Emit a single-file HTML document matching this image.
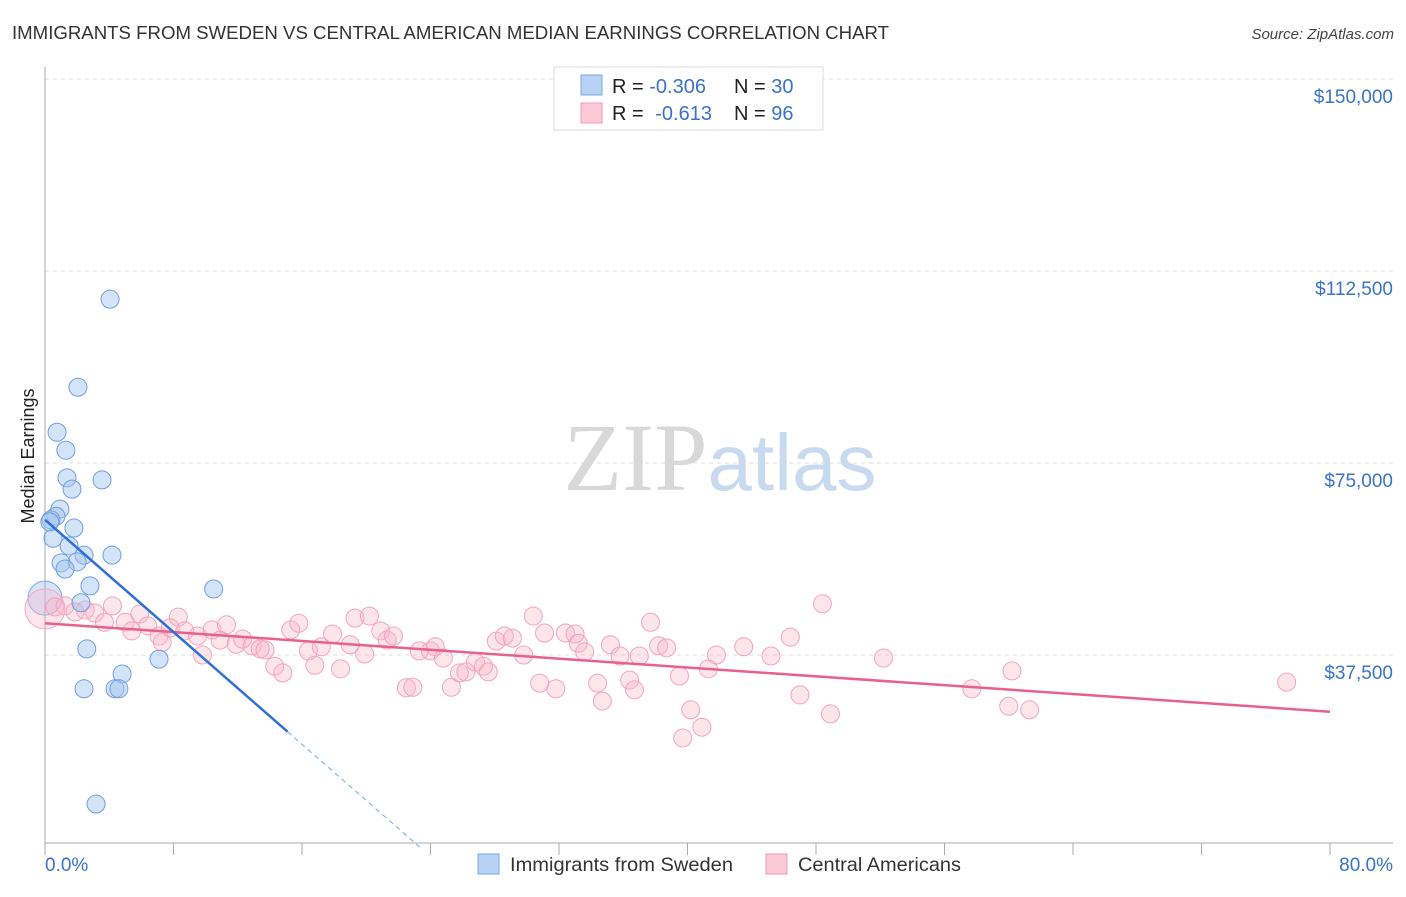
<!DOCTYPE html>
<html><head><meta charset="utf-8"><style>
body{margin:0;background:#fff;font-family:"Liberation Sans",sans-serif;}
svg text{font-family:"Liberation Sans",sans-serif;}
</style></head><body>
<svg id="chart" width="1406" height="892" xmlns="http://www.w3.org/2000/svg">
<text x="12" y="39" font-size="18.5" fill="#333" textLength="877" lengthAdjust="spacingAndGlyphs">IMMIGRANTS FROM SWEDEN VS CENTRAL AMERICAN MEDIAN EARNINGS CORRELATION CHART</text>
<text x="1394" y="39" font-size="15" fill="#444" text-anchor="end" font-style="italic">Source: ZipAtlas.com</text>
<text transform="translate(34,456) rotate(-90)" font-size="18" fill="#222" text-anchor="middle">Median Earnings</text>
<text x="720" y="490" font-size="96" text-anchor="middle"><tspan fill="#d8d8d8" font-family="Liberation Serif">ZIP</tspan><tspan fill="#c8daf0" font-size="80">atlas</tspan></text>
<g id="grid"></g><g id="marks"></g>
<g>
<rect x="554" y="67" width="269" height="63" fill="#fff" stroke="#ddd"/>
<rect x="581" y="75" width="21" height="20" fill="#b8d2f4" stroke="#7aa8e4"/>
<rect x="581" y="103" width="21" height="20" fill="#fcc9d8" stroke="#f09ab5"/>
<text x="612" y="93" font-size="20" fill="#222">R = <tspan fill="#3a73c8">-0.306</tspan><tspan x="734">N = </tspan><tspan fill="#3a73c8">30</tspan></text>
<text x="612" y="120" font-size="20" fill="#222">R = <tspan fill="#3a73c8" dx="6">-0.613</tspan><tspan x="734">N = </tspan><tspan fill="#3a73c8">96</tspan></text>
</g>
<g>
<rect x="478" y="854" width="21" height="20" fill="#b8d2f4" stroke="#7aa8e4"/>
<text x="510" y="871" font-size="19.5" fill="#333" textLength="223" lengthAdjust="spacingAndGlyphs">Immigrants from Sweden</text>
<rect x="766" y="854" width="21" height="20" fill="#fcc9d8" stroke="#f09ab5"/>
<text x="798" y="871" font-size="19.5" fill="#333" textLength="163" lengthAdjust="spacingAndGlyphs">Central Americans</text>
</g>
</svg>
<script>
const yTicks=[150000,112500,75000,37500];
const yTickLabels=["$150,000","$112,500","$75,000","$37,500"];
const xTickLabels=["0.0%","80.0%"];
const blueX=[4.05,2.05,0.75,1.3,1.37,1.68,3.55,0.93,0.68,0.37,1.8,0.5,1.5,2.43,4.17,2.0,1.0,1.25,2.8,10.5,2.24,2.6,4.8,7.1,2.43,4.36,4.6,3.18,0.3];
const blueY=[107000,89800,81000,77500,72100,69900,71700,66000,64600,63900,62300,60300,58800,57000,57000,55700,55500,54300,51000,50400,47700,38700,33800,36700,30900,30900,30900,8400,63500];
const pinkX=[0.62,1.25,1.87,2.5,3.1,3.7,4.2,5,5.4,5.9,6.4,7.1,7.3,7.8,8.3,8.7,9.5,9.8,10.4,10.9,11.3,11.9,12.3,12.9,13.4,13.7,14.3,14.8,15.3,15.8,16.4,16.8,17.2,17.9,18.4,19,19.3,19.9,20.2,20.9,21.3,21.7,22.5,22.9,23.3,24,24.3,24.8,25.3,25.8,26.2,26.8,27.3,27.6,28.1,28.6,29.1,29.8,30.4,30.8,31.1,31.8,32.4,33,33.2,33.6,34.4,34.7,35.2,35.8,36.4,36.7,37,37.7,38.2,38.7,39.5,39.7,40.2,40.9,41.3,41.8,43.5,45.2,46.4,47,48.4,48.9,52.2,57.7,60,60.2,61.3,77.3];
const pinkY=[46900,47100,45900,46300,45700,43900,47100,43900,42200,45500,43200,41200,40000,42800,44900,42200,41200,37500,42400,40400,43400,39600,40600,39300,38700,38500,35300,34000,42400,43700,38300,35500,39100,41600,34800,39500,44700,37700,45100,42200,40400,41200,31100,31200,38300,38300,39100,36900,31200,34000,34200,36100,35300,34200,40200,41200,40800,37500,45100,32000,41800,30900,41800,41600,39800,38100,32000,28500,39500,37300,32600,30700,37300,43900,39300,38900,33400,21300,26800,23400,34800,37500,39100,37300,41000,29700,47500,26000,36900,30900,27500,34400,26800,32200];
const blueTrend=[63900,-2740]; // intercept, slope per %
const pinkTrend=[43700,-216];
const X=v=>45+v*1285/80, Y=v=>847-v*192/37500;
const NS="http://www.w3.org/2000/svg";
function mk(tag,attrs,parent){const e=document.createElementNS(NS,tag);for(const k in attrs)e.setAttribute(k,attrs[k]);document.getElementById(parent).appendChild(e);return e;}
yTicks.forEach((t,i)=>{
 const g=mk('line',{x1:45,x2:1393,y1:Y(t),y2:Y(t),stroke:'#ddd','stroke-dasharray':'4,4'},'grid');
 
 
 const l=mk('text',{x:1393,y:Y(t)+24,'font-size':19,fill:'#3a73c8','text-anchor':'end'},'grid');l.textContent=yTickLabels[i];
 
 
});
const ax=mk('line',{x1:45,x2:45,y1:67,y2:843,stroke:'#aaa'},'grid');


const bx=mk('line',{x1:45,x2:1393,y1:843,y2:843,stroke:'#aaa'},'grid');


for(let i=0;i<=10;i++){const t=mk('line',{x1:X(i*8),x2:X(i*8),y1:843,y2:855,stroke:'#aaa'},'grid');
 
 }
[[0,'start',45],[1,'end',1393]].forEach(([i,a,x])=>{const t=mk('text',{x:x,y:871,'font-size':19,fill:'#3a73c8','text-anchor':a},'grid');t.textContent=xTickLabels[i];
 
 });
const bb=mk('circle',{cx:X(0),cy:Y(48600),r:17,fill:'rgba(140,180,235,0.35)',stroke:'#7aa8e4'},'marks');


const pb=mk('circle',{cx:X(0),cy:Y(46500),r:20,fill:'rgba(248,180,200,0.35)',stroke:'#f5a8c0'},'marks');


pinkX.forEach((x,i)=>{const c=mk('circle',{cx:X(x),cy:Y(pinkY[i]),r:9,fill:'rgba(248,180,200,0.35)',stroke:'#f2a5bd'},'marks');
 
 });
blueX.forEach((x,i)=>{const c=mk('circle',{cx:X(x),cy:Y(blueY[i]),r:9,fill:'rgba(160,195,240,0.45)',stroke:'#6f9fe0'},'marks');
 
 });
const p1=mk('line',{x1:X(0),y1:Y(pinkTrend[0]),x2:X(80),y2:Y(pinkTrend[0]+80*pinkTrend[1]),stroke:'#e8608c','stroke-width':2.5},'marks');


const b1=mk('line',{x1:X(0),y1:Y(blueTrend[0]),x2:X(15.1),y2:Y(blueTrend[0]+15.1*blueTrend[1]),stroke:'#2f6fd6','stroke-width':2.5},'marks');


const xe=-blueTrend[0]/blueTrend[1];
const b2=mk('line',{x1:X(15.1),y1:Y(blueTrend[0]+15.1*blueTrend[1]),x2:X(xe),y2:Y(0),stroke:'#7aa8e4','stroke-width':1,'stroke-dasharray':'5,4'},'marks');


</script>
</body></html>
